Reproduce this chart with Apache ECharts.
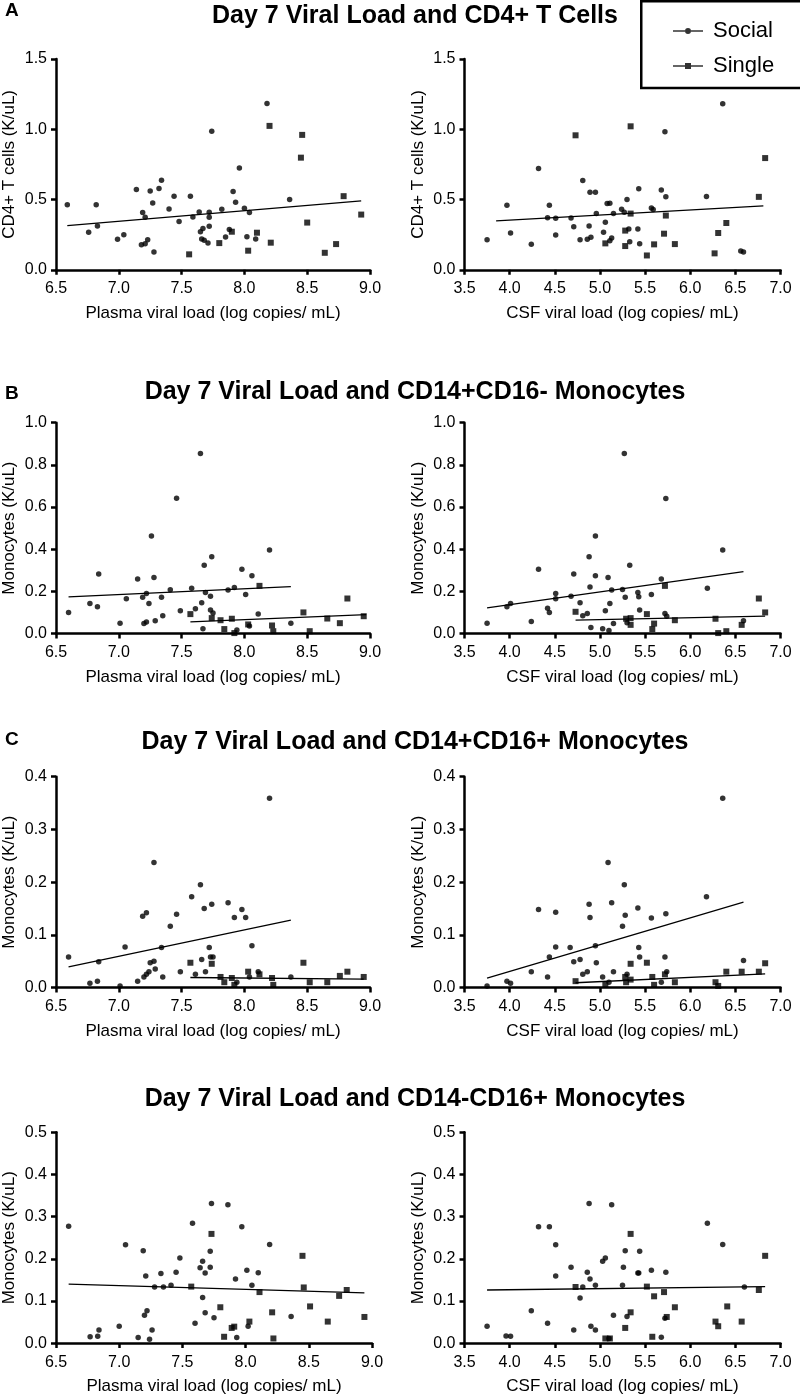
<!DOCTYPE html>
<html><head><meta charset="utf-8">
<script src="https://cdn.jsdelivr.net/npm/echarts/dist/echarts.min.js"></script>
<style>html,body{margin:0;padding:0;background:#fff}#c{width:800px;height:1399px}</style>
</head><body><div id="c"></div><script>
// ---------- DATA ----------
const seriesNames = ['Social', 'Single'];
const plasmaName = 'Plasma viral load (log copies/ mL)';
const csfName = 'CSF viral load (log copies/ mL)';
const panelTitles = ['Day 7 Viral Load and CD4+ T Cells','Day 7 Viral Load and CD14+CD16- Monocytes','Day 7 Viral Load and CD14+CD16+ Monocytes','Day 7 Viral Load and CD14-CD16+ Monocytes'];
const panelLetters = ['A','B','C'];
const yNames = ['CD4+ T cells (K/uL)','Monocytes (K/uL)','Monocytes (K/uL)','Monocytes (K/uL)'];
const yMax = [1.5, 1.0, 0.4, 0.5];
const yStep = [0.5, 0.2, 0.1, 0.1];
const plasmaRange = [6.5, 9.0];
const csfRange = [3.5, 7.0];
const xStep = 0.5;

// A: CD4+ T cells
const aPlasmaSocial = [[6.59,0.462],[6.76,0.267],[6.82,0.462],[6.83,0.312],[6.99,0.217],[7.04,0.25],[7.14,0.571],[7.18,0.179],[7.19,0.407],[7.21,0.374],[7.21,0.186],[7.23,0.214],[7.25,0.56],[7.27,0.476],[7.28,0.126],[7.32,0.579],[7.34,0.638],[7.40,0.433],[7.44,0.524],[7.48,0.343],[7.57,0.524],[7.59,0.376],[7.64,0.412],[7.65,0.271],[7.66,0.219],[7.67,0.293],[7.68,0.21],[7.71,0.19],[7.72,0.41],[7.72,0.374],[7.72,0.31],[7.74,0.986],[7.82,0.431],[7.85,0.233],[7.88,0.286],[7.91,0.557],[7.93,0.481],[7.96,0.724],[8.0,0.438],[8.02,0.236],[8.04,0.407],[8.09,0.219],[8.18,1.183],[8.36,0.5]];
const aPlasmaSingle = [[7.56,0.11],[7.80,0.19],[7.90,0.271],[8.03,0.136],[8.10,0.264],[8.20,1.024],[8.21,0.193],[8.45,0.798],[8.46,0.96],[8.50,0.336],[8.64,0.121],[8.73,0.183],[8.79,0.524],[8.93,0.393]];
const aPlasmaFit = [[6.59,0.314],[8.93,0.49]];
const aCsfSocial = [[3.75,0.214],[3.97,0.46],[4.01,0.262],[4.24,0.181],[4.32,0.721],[4.42,0.371],[4.44,0.46],[4.51,0.367],[4.51,0.248],[4.68,0.369],[4.71,0.307],[4.78,0.214],[4.81,0.636],[4.86,0.217],[4.88,0.312],[4.89,0.552],[4.90,0.231],[4.95,0.552],[4.96,0.4],[5.04,0.267],[5.06,0.338],[5.08,0.471],[5.11,0.474],[5.11,0.207],[5.13,0.226],[5.15,0.4],[5.24,0.431],[5.27,0.41],[5.30,0.5],[5.32,0.29],[5.33,0.2],[5.42,0.29],[5.43,0.576],[5.44,0.186],[5.57,0.44],[5.59,0.429],[5.68,0.567],[5.72,0.983],[5.73,0.519],[6.18,0.521],[6.36,1.181],[6.56,0.133],[6.59,0.126]];
const aCsfSingle = [[4.73,0.957],[5.06,0.188],[5.28,0.169],[5.28,0.279],[5.34,1.021],[5.34,0.4],[5.52,0.102],[5.60,0.181],[5.71,0.257],[5.73,0.386],[5.83,0.183],[6.27,0.117],[6.31,0.262],[6.40,0.333],[6.76,0.519],[6.83,0.795]];
const aCsfFit = [[3.85,0.348],[6.81,0.455]];

// B: CD14+CD16- monocytes
const bPlasmaSocial = [[6.60,0.1],[6.77,0.142],[6.83,0.127],[6.84,0.282],[7.01,0.049],[7.06,0.165],[7.15,0.259],[7.19,0.172],[7.20,0.047],[7.22,0.19],[7.22,0.054],[7.24,0.142],[7.26,0.462],[7.28,0.266],[7.29,0.06],[7.34,0.172],[7.35,0.084],[7.41,0.207],[7.46,0.642],[7.49,0.108],[7.58,0.215],[7.61,0.117],[7.65,0.854],[7.66,0.146],[7.67,0.022],[7.68,0.324],[7.69,0.195],[7.73,0.177],[7.73,0.111],[7.74,0.364],[7.75,0.097],[7.87,0.206],[7.92,0.218],[7.94,0.017],[7.98,0.305],[8.01,0.185],[8.04,0.035],[8.06,0.274],[8.11,0.093],[8.20,0.396],[8.37,0.049]];
const bPlasmaSingle = [[7.57,0.092],[7.74,0.073],[7.81,0.063],[7.84,0.021],[7.90,0.07],[7.92,0.002],[8.03,0.043],[8.12,0.226],[8.22,0.038],[8.23,0.011],[8.47,0.1],[8.52,0.011],[8.66,0.071],[8.76,0.049],[8.82,0.166],[8.95,0.082]];
const bPlasmaFitSocial = [[6.60,0.174],[8.37,0.222]];
const bPlasmaFitSingle = [[7.57,0.055],[8.97,0.09]];
const bCsfSocial = [[3.75,0.049],[3.97,0.127],[4.01,0.142],[4.24,0.057],[4.32,0.305],[4.42,0.12],[4.44,0.1],[4.51,0.165],[4.51,0.19],[4.68,0.177],[4.71,0.282],[4.78,0.146],[4.81,0.084],[4.86,0.095],[4.88,0.364],[4.89,0.22],[4.90,0.028],[4.95,0.462],[4.95,0.274],[5.03,0.022],[5.06,0.108],[5.09,0.266],[5.10,0.014],[5.11,0.142],[5.13,0.206],[5.15,0.047],[5.25,0.209],[5.27,0.854],[5.28,0.172],[5.30,0.051],[5.33,0.324],[5.42,0.195],[5.43,0.174],[5.44,0.111],[5.57,0.185],[5.68,0.259],[5.72,0.095],[5.73,0.641],[5.74,0.082],[6.19,0.215],[6.36,0.396],[6.59,0.06]];
const bCsfSingle = [[4.73,0.103],[5.29,0.07],[5.34,0.073],[5.34,0.041],[5.52,0.092],[5.58,0.021],[5.60,0.047],[5.72,0.226],[5.83,0.063],[6.28,0.07],[6.31,0.002],[6.40,0.011],[6.57,0.041],[6.76,0.166],[6.83,0.1]];
const bCsfFitSocial = [[3.75,0.122],[6.59,0.294]];
const bCsfFitSingle = [[4.73,0.063],[6.83,0.082]];

// C: CD14+CD16+ monocytes
const cPlasmaSocial = [[6.60,0.058],[6.77,0.008],[6.83,0.012],[6.84,0.049],[7.01,0.003],[7.05,0.077],[7.15,0.012],[7.19,0.135],[7.20,0.02],[7.22,0.142],[7.22,0.025],[7.24,0.03],[7.25,0.047],[7.28,0.237],[7.28,0.05],[7.29,0.035],[7.34,0.076],[7.35,0.02],[7.41,0.116],[7.46,0.139],[7.49,0.03],[7.58,0.172],[7.61,0.025],[7.65,0.195],[7.66,0.053],[7.68,0.15],[7.69,0.03],[7.72,0.076],[7.73,0.058],[7.74,0.158],[7.75,0.058],[7.87,0.161],[7.92,0.133],[7.94,0.01],[7.98,0.148],[8.01,0.133],[8.04,0.02],[8.06,0.079],[8.11,0.03],[8.20,0.359],[8.37,0.02]];
const cPlasmaSingle = [[7.57,0.047],[7.74,0.045],[7.81,0.02],[7.84,0.01],[7.90,0.018],[7.92,0.005],[8.03,0.03],[8.12,0.025],[8.22,0.018],[8.23,0.005],[8.47,0.047],[8.52,0.01],[8.66,0.01],[8.76,0.022],[8.82,0.03],[8.95,0.02]];
const cPlasmaFitSocial = [[6.60,0.039],[8.37,0.128]];
const cPlasmaFitSingle = [[7.57,0.019],[8.95,0.016]];
const cCsfSocial = [[3.75,0.003],[3.97,0.012],[4.01,0.008],[4.24,0.03],[4.32,0.148],[4.42,0.02],[4.44,0.058],[4.51,0.143],[4.51,0.077],[4.67,0.076],[4.71,0.049],[4.78,0.053],[4.81,0.025],[4.86,0.03],[4.88,0.158],[4.89,0.133],[4.95,0.079],[4.96,0.047],[5.03,0.02],[5.09,0.237],[5.10,0.01],[5.13,0.161],[5.15,0.03],[5.25,0.116],[5.27,0.195],[5.28,0.137],[5.30,0.025],[5.42,0.151],[5.43,0.076],[5.44,0.058],[5.57,0.132],[5.68,0.01],[5.72,0.058],[5.73,0.14],[5.74,0.03],[6.18,0.172],[6.36,0.359],[6.59,0.051]];
const cCsfSingle = [[4.73,0.012],[5.06,0.005],[5.28,0.02],[5.29,0.01],[5.34,0.045],[5.34,0.015],[5.52,0.047],[5.58,0.02],[5.60,0.005],[5.72,0.025],[5.83,0.01],[6.28,0.01],[6.31,0.003],[6.40,0.03],[6.57,0.03],[6.76,0.03],[6.83,0.046]];
const cCsfFitSocial = [[3.75,0.018],[6.59,0.162]];
const cCsfFitSingle = [[4.73,0.009],[6.83,0.026]];

// D: CD14-CD16+ monocytes
const dPlasmaSocial = [[6.60,0.277],[6.77,0.015],[6.83,0.016],[6.84,0.031],[7.00,0.04],[7.05,0.233],[7.15,0.013],[7.19,0.219],[7.20,0.066],[7.21,0.159],[7.22,0.077],[7.24,0.009],[7.26,0.031],[7.28,0.133],[7.33,0.165],[7.35,0.133],[7.41,0.137],[7.45,0.168],[7.48,0.202],[7.58,0.284],[7.60,0.047],[7.64,0.179],[7.66,0.194],[7.66,0.108],[7.68,0.072],[7.68,0.166],[7.72,0.218],[7.72,0.18],[7.73,0.331],[7.75,0.06],[7.86,0.328],[7.92,0.152],[7.93,0.013],[7.97,0.276],[8.01,0.173],[8.02,0.04],[8.05,0.137],[8.10,0.167],[8.19,0.234],[8.36,0.063]];
const dPlasmaSingle = [[7.57,0.134],[7.73,0.259],[7.80,0.085],[7.83,0.015],[7.89,0.036],[7.91,0.039],[8.03,0.051],[8.11,0.121],[8.21,0.073],[8.22,0.011],[8.45,0.207],[8.46,0.132],[8.51,0.087],[8.65,0.051],[8.74,0.112],[8.80,0.126],[8.94,0.062]];
const dPlasmaFit = [[6.60,0.14],[8.94,0.119]];
const dCsfSocial = [[3.75,0.04],[3.96,0.017],[4.01,0.016],[4.24,0.077],[4.32,0.276],[4.42,0.047],[4.44,0.276],[4.51,0.233],[4.51,0.159],[4.68,0.18],[4.71,0.031],[4.78,0.107],[4.81,0.133],[4.86,0.168],[4.88,0.331],[4.89,0.152],[4.90,0.04],[4.95,0.137],[4.95,0.031],[5.03,0.194],[5.06,0.202],[5.10,0.011],[5.13,0.328],[5.15,0.066],[5.25,0.137],[5.26,0.18],[5.28,0.219],[5.30,0.063],[5.42,0.166],[5.43,0.166],[5.44,0.218],[5.57,0.173],[5.68,0.014],[5.72,0.059],[5.73,0.168],[6.19,0.284],[6.36,0.234],[6.60,0.133]];
const dCsfSingle = [[4.73,0.133],[5.06,0.011],[5.11,0.011],[5.28,0.036],[5.34,0.073],[5.34,0.259],[5.52,0.134],[5.58,0.015],[5.60,0.111],[5.71,0.121],[5.74,0.062],[5.83,0.085],[6.28,0.051],[6.31,0.04],[6.41,0.087],[6.57,0.051],[6.76,0.126],[6.83,0.207]];
const dCsfFit = [[3.75,0.126],[6.83,0.134]];

// ---------- LAYOUT ----------
const FONT = 'Liberation Sans, Arial, Helvetica, sans-serif';
const rowTops = [59, 422.7, 776.7, 1132.3];
const rowH = 210.8;
const panels = [
  {row:0, left:55, w:315, range:plasmaRange, xname:plasmaName, social:aPlasmaSocial, single:aPlasmaSingle, fits:[aPlasmaFit]},
  {row:0, left:464.5, w:316, range:csfRange, xname:csfName, social:aCsfSocial, single:aCsfSingle, fits:[aCsfFit]},
  {row:1, left:55, w:315, range:plasmaRange, xname:plasmaName, social:bPlasmaSocial, single:bPlasmaSingle, fits:[bPlasmaFitSocial,bPlasmaFitSingle]},
  {row:1, left:464.5, w:316, range:csfRange, xname:csfName, social:bCsfSocial, single:bCsfSingle, fits:[bCsfFitSocial,bCsfFitSingle]},
  {row:2, left:55, w:315, range:plasmaRange, xname:plasmaName, social:cPlasmaSocial, single:cPlasmaSingle, fits:[cPlasmaFitSocial,cPlasmaFitSingle]},
  {row:2, left:464.5, w:316, range:csfRange, xname:csfName, social:cCsfSocial, single:cCsfSingle, fits:[cCsfFitSocial,cCsfFitSingle]},
  {row:3, left:56, w:316, range:plasmaRange, xname:plasmaName, social:dPlasmaSocial, single:dPlasmaSingle, fits:[dPlasmaFit]},
  {row:3, left:464.5, w:316, range:csfRange, xname:csfName, social:dCsfSocial, single:dCsfSingle, fits:[dCsfFit]}
];

const axLine = {show:true, onZero:false, lineStyle:{color:'#000', width:2.5}};
const axTick = {show:true, length:5, lineStyle:{color:'#000', width:2.5}};
const fmt1 = v => v.toFixed(1);

const grid = [], xAxis = [], yAxis = [], series = [];
panels.forEach((p, i) => {
  grid.push({left:p.left, top:rowTops[p.row], width:p.w, height:rowH, containLabel:false});
  xAxis.push({gridIndex:i, type:'value', min:p.range[0], max:p.range[1], interval:xStep,
    axisLine:axLine, axisTick:axTick, splitLine:{show:false},
    axisLabel:{color:'#000', fontSize:16, fontFamily:FONT, margin:11, formatter:fmt1},
    name:p.xname, nameLocation:'middle', nameGap:35,
    nameTextStyle:{color:'#000', fontSize:17, fontFamily:FONT}});
  yAxis.push({gridIndex:i, type:'value', min:0, max:yMax[p.row], interval:yStep[p.row],
    axisLine:axLine, axisTick:axTick, splitLine:{show:false},
    axisLabel:{color:'#000', fontSize:16, fontFamily:FONT, margin:9, formatter:fmt1},
    name:yNames[p.row], nameLocation:'middle', nameGap:38, nameRotate:90,
    nameTextStyle:{color:'#000', fontSize:17, fontFamily:FONT}});
  series.push({name:seriesNames[0], type:'scatter', xAxisIndex:i, yAxisIndex:i, data:p.social,
    symbol:'circle', symbolSize:5.5, itemStyle:{color:'#000'}, z:3});
  series.push({name:seriesNames[1], type:'scatter', xAxisIndex:i, yAxisIndex:i, data:p.single,
    symbol:'rect', symbolSize:6, itemStyle:{color:'#000'}, z:3});
  p.fits.forEach(f => series.push({name:'fit', type:'line', xAxisIndex:i, yAxisIndex:i, data:f,
    symbol:'none', silent:true, lineStyle:{color:'#000', width:1.3}, z:2}));
});

const title = [];
const titleCenters = [11.5, 388, 738, 1095];
panelTitles.forEach((t, r) => title.push({text:t, left:410, top:titleCenters[r]-13, textAlign:'center',
  textStyle:{fontSize:25, fontWeight:'bold', color:'#000', fontFamily:FONT}}));
const letterCenters = [5.5, 388.5, 735];
panelLetters.forEach((t, r) => title.push({text:t, left:0, top:letterCenters[r]-9.5,
  textStyle:{fontSize:19, fontWeight:'bold', color:'#000', fontFamily:FONT}}));

const iconSocial = 'path://M0,2.3L12,2.3L12,3.7L0,3.7ZM18,2.3L30,2.3L30,3.7L18,3.7ZM18,3A3,3 0 1,1 12,3A3,3 0 1,1 18,3Z';
const iconSingle = 'path://M0,2.3L12,2.3L12,3.7L0,3.7ZM18,2.3L30,2.3L30,3.7L18,3.7ZM12,0L18,0L18,6L12,6Z';

const option = {
  animation:false,
  backgroundColor:'#fff',
  title,
  grid, xAxis, yAxis, series,
  legend:{data:[{name:'Social', icon:iconSocial},{name:'Single', icon:iconSingle}],
    orient:'vertical', left:668, top:15, itemWidth:30, itemHeight:6, itemGap:13, selectedMode:false,
    textStyle:{fontSize:22, color:'#000', fontFamily:FONT, padding:[0,0,0,5]}},
  graphic:[{type:'rect', silent:true, shape:{x:641.25, y:1.25, width:170, height:86.8},
    style:{fill:null, stroke:'#000', lineWidth:2.5}}]
};
const chart = echarts.init(document.getElementById('c'), null, {renderer:'canvas'});
chart.setOption(option);
</script></body></html>
